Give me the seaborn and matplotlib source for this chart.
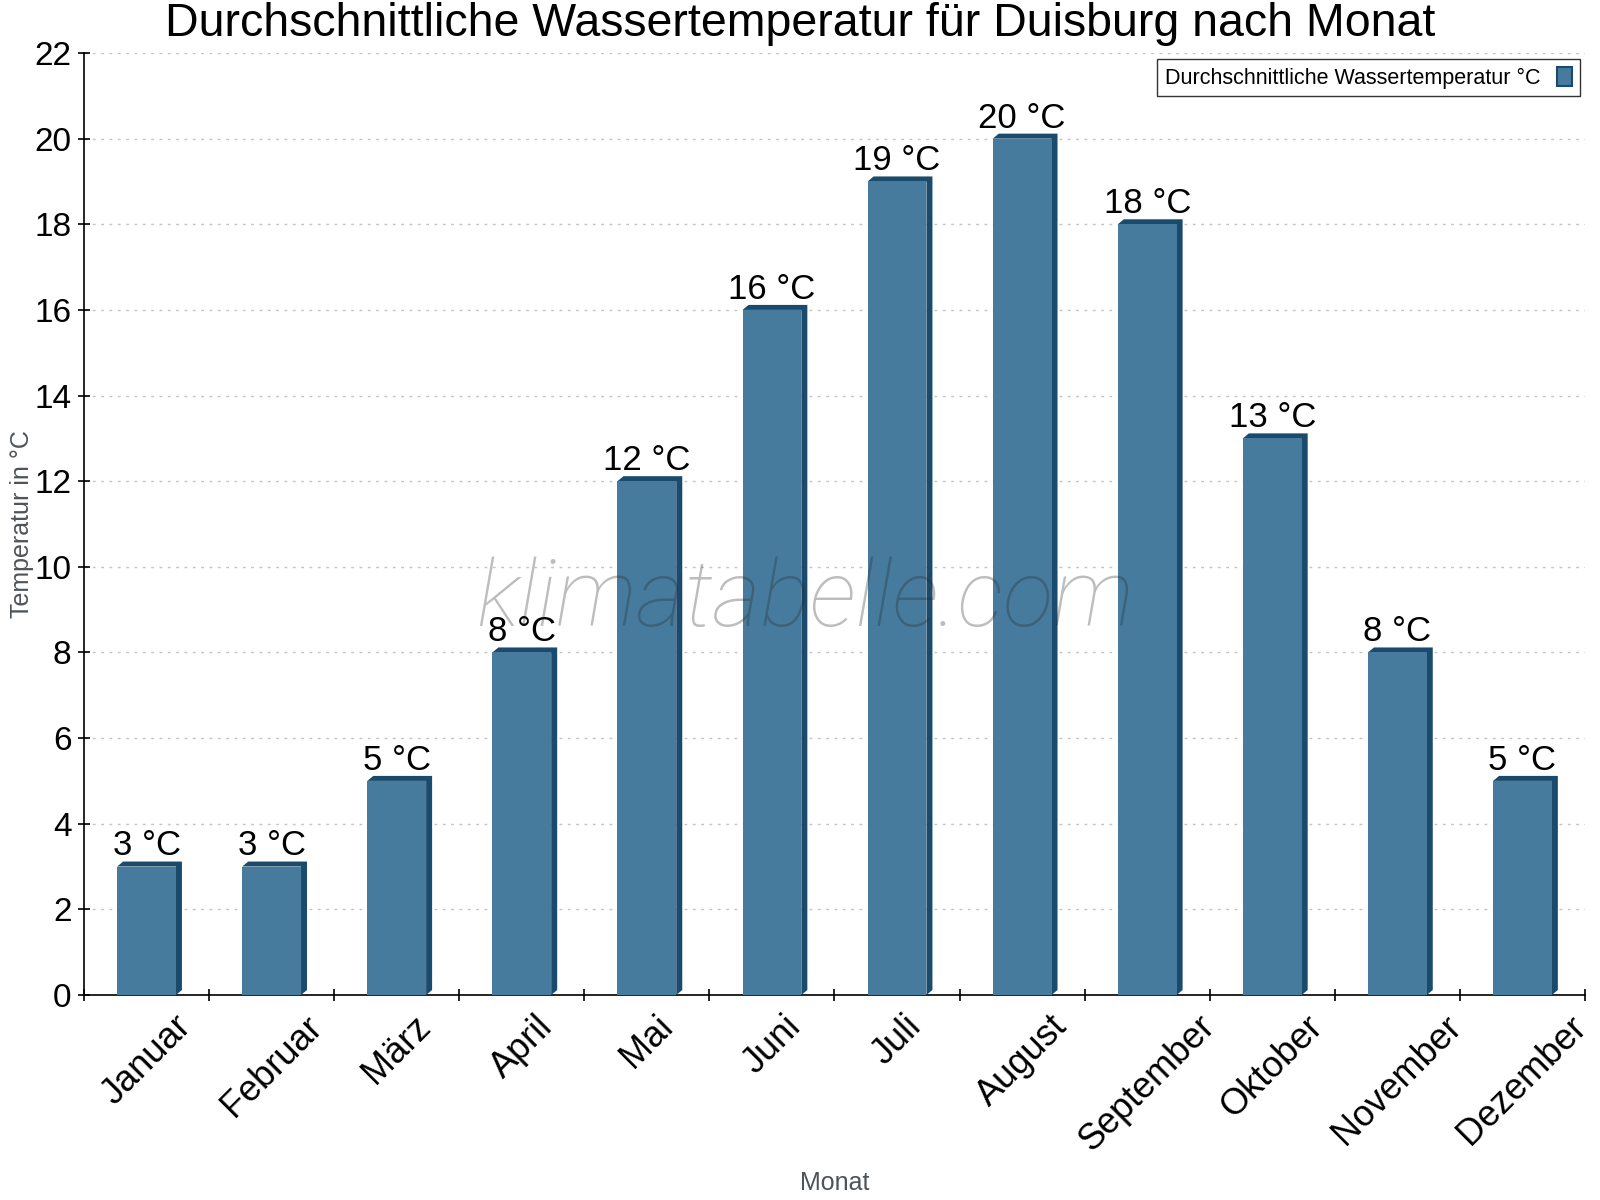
import matplotlib
matplotlib.use("Agg")
import matplotlib.pyplot as plt
from matplotlib.patches import Polygon, Patch
import seaborn as sns
import pandas as pd
import numpy as np

# ---- data ----
months = ["Januar", "Februar", "März", "April", "Mai", "Juni", "Juli",
          "August", "September", "Oktober", "November", "Dezember"]
temps = [3, 3, 5, 8, 12, 16, 19, 20, 18, 13, 8, 5]
yticks = [0, 2, 4, 6, 8, 10, 12, 14, 16, 18, 20, 22]
series_name = "Durchschnittliche Wassertemperatur °C"
title = "Durchschnittliche Wassertemperatur für Duisburg nach Monat"
ylabel = "Temperatur in °C"
xlabel = "Monat"
watermark = "klimatabelle.com"

FRONT = "#467b9d"
DARK = "#1b4b6c"

sns.set_style("white")
plt.rcParams["font.family"] = ["Liberation Sans", "DejaVu Sans"]
plt.rcParams["text.color"] = "black"

W, H = 1600, 1200
fig = plt.figure(figsize=(16, 12), dpi=100)
ax = fig.add_axes([84 / W, 1 - 995 / H, (1585 - 84) / W, (995 - 53) / H])

df = pd.DataFrame({"Monat": months, "Temperatur": temps})
sns.barplot(data=df, x="Monat", y="Temperatur", color=FRONT, saturation=1,
            width=0.47, ax=ax, zorder=3, linewidth=0)

ax.set_xlim(-0.5, len(months) - 0.5)
ax.set_ylim(0, 22)

# 3D depth effect
ax_w_px = (1585 - 84)
ax_h_px = (995 - 53)
dx = 6 / (ax_w_px / len(months))
dy = 5 / (ax_h_px / 22)
for p in ax.patches:
    x0 = p.get_x()
    x1 = x0 + p.get_width()
    top = p.get_height()
    poly = Polygon([(x0, top), (x0 + dx, top + dy), (x1 + dx, top + dy),
                    (x1 + dx, dy), (x1, 0), (x1, top)],
                   closed=True, facecolor=DARK, edgecolor="none", zorder=2.9)
    ax.add_patch(poly)

# value labels
for i, v in enumerate(temps):
    ax.annotate(f"{v} °C", (i, v), xytext=(0, 8), textcoords="offset points",
                ha="center", va="baseline", fontsize=25, color="black", zorder=5)

# axes styling
for s in ["top", "right"]:
    ax.spines[s].set_visible(False)
for s in ["left", "bottom"]:
    ax.spines[s].set_color("black")
    ax.spines[s].set_linewidth(1.2)

ax.set_yticks(yticks)
ax.set_yticklabels([str(t) for t in yticks])
ax.tick_params(axis="y", direction="inout", length=8, width=1.2, pad=5,
               labelsize=24, colors="black", left=True)
ax.set_xticks(range(len(months)))
ax.set_xticklabels(months, rotation=45, ha="center")
ax.tick_params(axis="x", which="major", length=0, pad=10, labelsize=26,
               labelcolor="black")
ax.set_xticks(np.arange(-0.5, len(months), 1.0), minor=True)
ax.tick_params(axis="x", which="minor", direction="inout", length=8, width=1.2,
               bottom=True, color="black")

ax.yaxis.grid(True, linestyle=(0, (2, 4)), color="#c4c4c4", linewidth=1)
ax.set_axisbelow(True)

ax.set_ylabel(ylabel, fontsize=18, color="#4d5358")
ax.yaxis.set_label_coords((34 - 84) / ax_w_px, 0.5)
ax.set_xlabel(xlabel, fontsize=18, color="#4d5358", va="center")
ax.xaxis.set_label_coords(0.5, (995 - 1183) / ax_h_px)

fig.text(0.5, 1 - 36 / H, title, ha="center", va="baseline", fontsize=33.5,
         color="black")

fig.text(805 / W, 1 - 626 / H, watermark, ha="center", va="baseline",
         fontsize=67, family="Roboto", fontweight="light", style="italic",
         color="#262626", alpha=0.3, zorder=10)

handle = Patch(facecolor=FRONT, edgecolor=DARK, linewidth=1.5)
leg = ax.legend([handle], [series_name], loc="upper right",
                bbox_to_anchor=(1580 / W, 1 - 59 / H),
                bbox_transform=fig.transFigure, borderaxespad=0,
                fontsize=15.5, frameon=True, fancybox=False, markerfirst=False,
                handlelength=0.7, handleheight=1.0, handletextpad=0.8,
                borderpad=0.35, labelcolor="black")
leg.get_frame().set_edgecolor("black")
leg.get_frame().set_linewidth(1.0)
leg.set_zorder(6)

fig.savefig("out.png", dpi=100)
